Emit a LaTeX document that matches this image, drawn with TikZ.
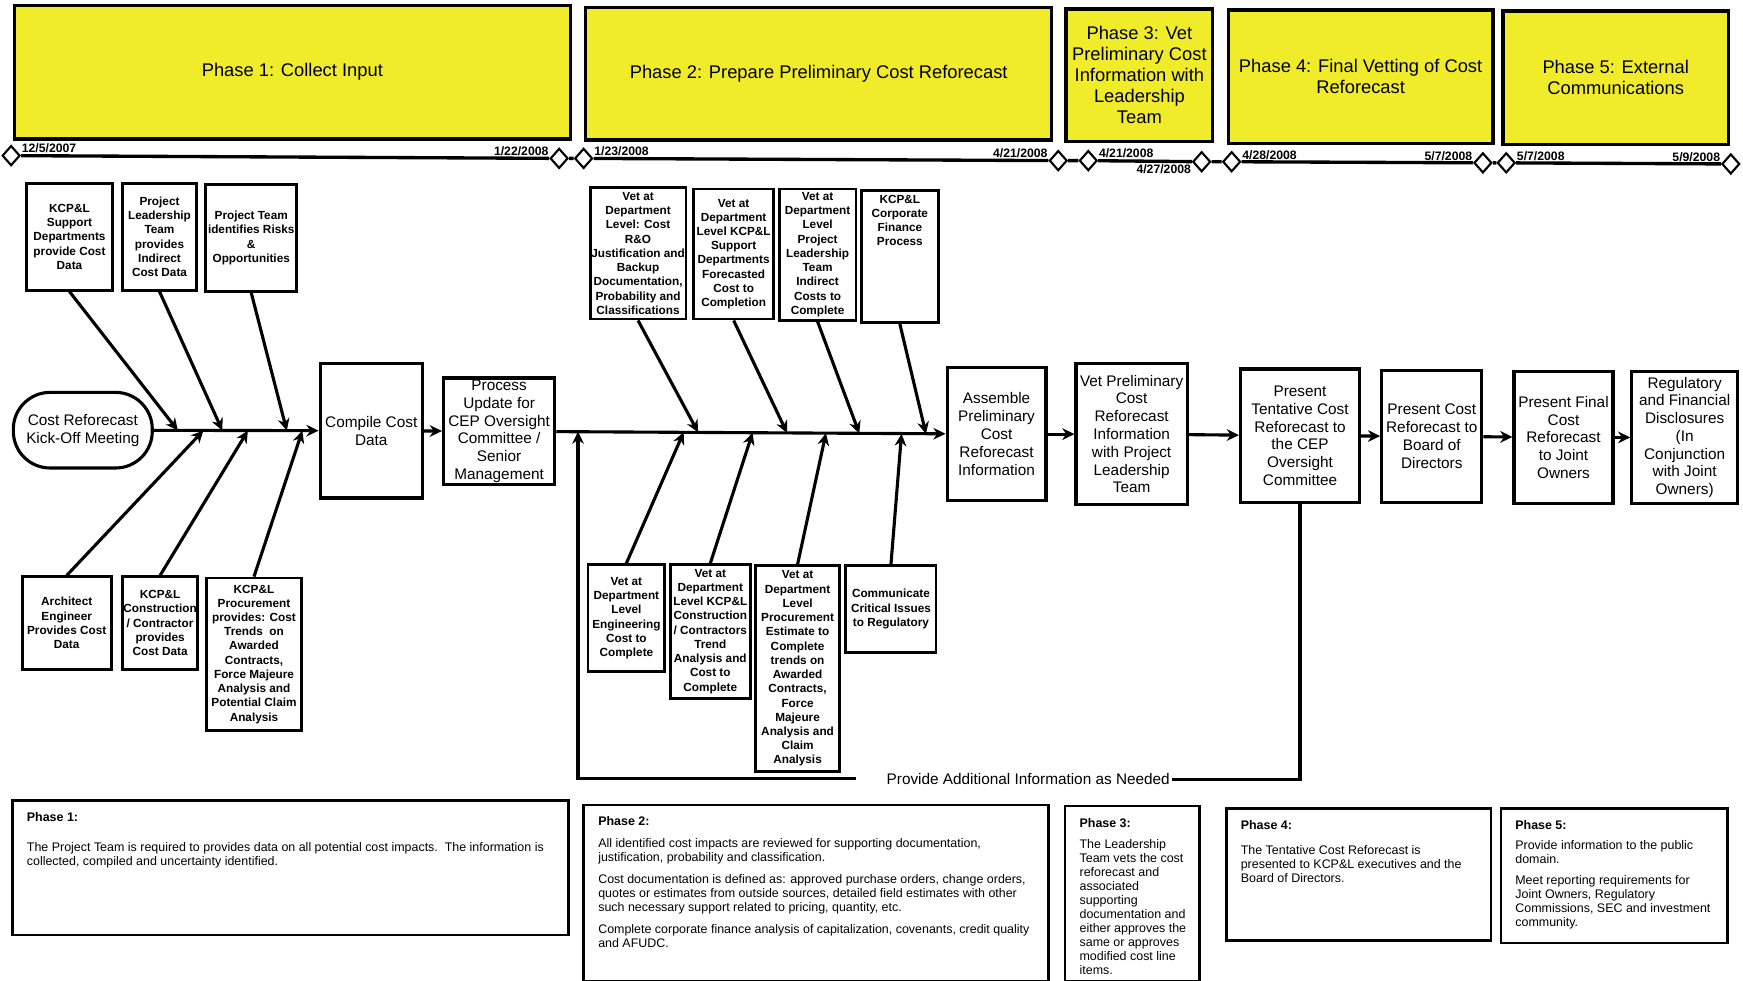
\documentclass[tikz,border=0pt]{standalone}
\usepackage{fontspec}
\setmainfont{Liberation Sans}
\usepackage{tikz}
\usetikzlibrary{arrows.meta, positioning, shapes.geometric}
\usepackage[usenames,dvipsnames]{xcolor}
\definecolor{phaseyellow}{HTML}{F1EC2A}
\tikzset{>={Stealth[length=11pt,width=10.5pt]}}
\tikzset{
	phasebox/.style={draw, fill=phaseyellow, line width=3pt, align=center, inner sep=2pt, font=\fontsize{16.5}{19}\selectfont},
	milestone/.style={draw, diamond, fill=white, line width=1.9pt, minimum width=16pt, minimum height=18pt, inner sep=0pt},
	datelbl/.style={inner sep=0.5pt, font=\bfseries\fontsize{11}{12}\selectfont},
	stepbox/.style={draw, line width=2.8pt, align=center, inner sep=1pt, font=\fontsize{13.8}{16}\selectfont},
	inputbox/.style={draw, line width=2.6pt, align=center, inner sep=1pt, font=\bfseries\fontsize{10.6}{12.8}\selectfont},
	notebox/.style={draw, line width=2.4pt, anchor=north west, inner xsep=13pt, inner ysep=10pt, font=\fontsize{11.2}{12.6}\selectfont},
	flow/.style={line width=2.8pt, ->},
	spine/.style={line width=2.8pt}
}
\newcommand{\notebody}[3]{\parbox[t][#2][t]{#1}{\begin{tabular}[t]{@{}l@{}}#3\end{tabular}}}

\begin{document}
\begin{tikzpicture}[x=1pt, y=-1pt]
	\useasboundingbox (0,0) rectangle (1568,882);
	\node[phasebox, minimum width=500pt, minimum height=120pt] (ph1) at (263,65) {Phase 1: Collect Input};
	\node[phasebox, minimum width=419pt, minimum height=119pt] (ph2) at (736.5,66.5) {Phase 2: Prepare Preliminary Cost Reforecast};
	\node[phasebox, minimum width=132pt, minimum height=119pt] (ph3) at (1025,67.5) {Phase 3: Vet\\Preliminary Cost\\Information with\\Leadership\\Team};
	\node[phasebox, minimum width=238pt, minimum height=120pt] (ph4) at (1224,69) {Phase 4: Final Vetting of Cost\\Reforecast};
	\node[phasebox, minimum width=203pt, minimum height=120pt] (ph5) at (1453.5,70) {Phase 5: External\\Communications};

	\node[milestone] (m1) at (10,140) {};
	\node[milestone] (m2) at (503,142.5) {};
	\node[milestone] (m3) at (525,142.5) {};
	\node[milestone] (m4) at (952,144.5) {};
	\node[milestone] (m5) at (979,144.5) {};
	\node[milestone] (m6) at (1081,145.5) {};
	\node[milestone] (m7) at (1108,145.5) {};
	\node[milestone] (m8) at (1334,146.5) {};
	\node[milestone] (m9) at (1355,146.5) {};
	\node[milestone] (m10) at (1557,147.5) {};
	\draw[line width=3pt] (m1) -- (m2) -- (m3) -- (m4) -- (m5) -- (m6) -- (m7) -- (m8) -- (m9) -- (m10);
	\node[datelbl, above right=1.5pt and 0pt of m1.east] (dt1) {12/5/2007};
	\node[datelbl, above left=1.5pt and 0pt of m2.west] (dt2) {1/22/2008};
	\node[datelbl, above right=1.5pt and 0pt of m3.east] (dt3) {1/23/2008};
	\node[datelbl, above left=1.5pt and 0pt of m4.west] (dt4) {4/21/2008};
	\node[datelbl, above right=1.5pt and 0pt of m5.east] (dt5) {4/21/2008};
	\node[datelbl, below left=1.5pt and 0pt of m6.west] (dt6) {4/27/2008};
	\node[datelbl, above right=1.5pt and 0pt of m7.east] (dt7) {4/28/2008};
	\node[datelbl, above left=1.5pt and 0pt of m8.west] (dt8) {5/7/2008};
	\node[datelbl, above right=1.5pt and 0pt of m9.east] (dt9) {5/7/2008};
	\node[datelbl, above left=1.5pt and 0pt of m10.west] (dt10) {5/9/2008};

	\node[stepbox, rounded corners=33pt, minimum width=125pt, minimum height=68pt] (kick) at (74.5,387) {Cost Reforecast\\Kick-Off Meeting};
	\node[stepbox, minimum width=92pt, minimum height=121pt] (cmp) at (334,387.5) {Compile Cost\\Data};
	\node[stepbox, minimum width=100pt, minimum height=96pt] (prc) at (449,388) {Process\\Update for\\CEP Oversight\\Committee /\\Senior\\Management};
	\node[stepbox, minimum width=89pt, minimum height=119pt] (asm) at (896.5,390.5) {Assemble\\Preliminary\\Cost\\Reforecast\\Information};
	\node[stepbox, minimum width=100pt, minimum height=127pt] (vet) at (1018,390.5) {Vet Preliminary\\Cost\\Reforecast\\Information\\with Project\\Leadership\\Team};
	\node[stepbox, minimum width=107pt, minimum height=120pt] (tnt) at (1169.5,392) {Present\\Tentative Cost\\Reforecast to\\the CEP\\Oversight\\Committee};
	\node[stepbox, minimum width=90pt, minimum height=119pt] (brd) at (1288,392.5) {Present Cost\\Reforecast to\\Board of\\Directors};
	\node[stepbox, minimum width=89pt, minimum height=119pt] (fin) at (1406.5,393.5) {Present Final\\Cost\\Reforecast\\to Joint\\Owners};
	\node[stepbox, minimum width=95pt, minimum height=119pt] (reg) at (1515.5,393.5) {Regulatory\\and Financial\\Disclosures\\(In\\Conjunction\\with Joint\\Owners)};

	\node[inputbox, minimum width=77pt, minimum height=96pt] (in1) at (62.5,213) {KCP\&L\\Support\\Departments\\provide Cost\\Data};
	\node[inputbox, minimum width=67pt, minimum height=96pt] (in2) at (143.5,213) {Project\\Leadership\\Team\\provides\\Indirect\\Cost Data};
	\node[inputbox, minimum width=82pt, minimum height=96pt] (in3) at (226,214) {Project Team\\identifies Risks\\\&\\Opportunities};
	\node[inputbox, minimum width=80pt, minimum height=83pt] (in4) at (60,560.5) {Architect\\Engineer\\Provides Cost\\Data};
	\node[inputbox, minimum width=68pt, minimum height=83pt] (in5) at (144,560.5) {KCP\&L\\Construction\\/ Contractor\\provides\\Cost Data};
	\node[inputbox, minimum width=85pt, minimum height=137pt] (in6) at (228.5,588.5) {KCP\&L\\Procurement\\provides: Cost\\Trends~ on\\Awarded\\Contracts,\\Force Majeure\\Analysis and\\Potential Claim\\Analysis};

	\node[inputbox, minimum width=86pt, minimum height=118pt] (vt1) at (574,228) {Vet at\\Department\\Level: Cost\\R\&O\\Justification and\\Backup\\Documentation,\\Probability and\\Classifications};
	\node[inputbox, minimum width=72pt, minimum height=117pt] (vt2) at (660,228.5) {Vet at\\Department\\Level KCP\&L\\Support\\Departments\\Forecasted\\Cost to\\Completion};
	\node[inputbox, minimum width=69pt, minimum height=118pt] (vt3) at (735.5,229) {Vet at\\Department\\Level\\Project\\Leadership\\Team\\Indirect\\Costs to\\Complete};
	\node[inputbox, minimum width=69pt, anchor=north, inner ysep=4pt, text depth=65pt] (vt4) at (809.5,170) {KCP\&L\\Corporate\\Finance\\Process};
	\node[inputbox, minimum width=69pt, minimum height=96pt] (vt5) at (563.5,556) {Vet at\\Department\\Level\\Engineering\\Cost to\\Complete};
	\node[inputbox, minimum width=72pt, minimum height=120pt] (vt6) at (639,568) {Vet at\\Department\\Level KCP\&L\\Construction\\/ Contractors\\Trend\\Analysis and\\Cost to\\Complete};
	\node[inputbox, minimum width=75pt, minimum height=185pt] (vt7) at (717.5,601.5) {Vet at\\Department\\Level\\Procurement\\Estimate to\\Complete\\trends on\\Awarded\\Contracts,\\Force\\Majeure\\Analysis and\\Claim\\Analysis};
	\node[inputbox, minimum width=81pt, minimum height=78pt] (vt8) at (801.5,548) {Communicate\\Critical Issues\\to Regulatory};

	\coordinate (s1a) at (160,387.3);
	\coordinate (s1b) at (200,387.3);
	\coordinate (s1c) at (258,387.5);
	\coordinate (s1d) at (183,387.3);
	\coordinate (s1e) at (223,387.4);
	\coordinate (s1f) at (272,387.5);
	\coordinate (s2a) at (628,388.9);
	\coordinate (s2b) at (708,389.5);
	\coordinate (s2c) at (773,389.9);
	\coordinate (s2d) at (833,390.4);
	\coordinate (s2e) at (615,388.8);
	\coordinate (s2f) at (677,389.3);
	\coordinate (s2g) at (743,389.7);
	\coordinate (s2h) at (811,390.2);

	\draw[flow] (kick) -- (cmp);
	\draw[flow] (cmp) -- (prc);
	\draw[flow] (prc) -- (asm);
	\draw[flow] (asm) -- (vet);
	\draw[flow] (vet) -- (tnt);
	\draw[flow] (tnt) -- (brd);
	\draw[flow] (brd) -- (fin);
	\draw[flow] (fin) -- (reg);

	\draw[flow] (in1.south) -- (s1a);
	\draw[flow] (in2.south) -- (s1b);
	\draw[flow] (in3.south) -- (s1c);
	\draw[flow] (in4.north) -- (s1d);
	\draw[flow] (in5.north) -- (s1e);
	\draw[flow] (in6.north) -- (s1f);
	\draw[flow] (vt1.south) -- (s2a);
	\draw[flow] (vt2.south) -- (s2b);
	\draw[flow] (vt3.south) -- (s2c);
	\draw[flow] (vt4.south) -- (s2d);
	\draw[flow] (vt5.north) -- (s2e);
	\draw[flow] (vt6.north) -- (s2f);
	\draw[flow] (vt7.north) -- (s2g);
	\draw[flow] (vt8.north) -- (s2h);

	\node[font=\fontsize{13.8}{16}\selectfont, inner sep=2pt] (fbl) at (925,701) {Provide Additional Information as Needed};
	\coordinate (fbk) at (770,700);
	\coordinate (fbt) at (520,388.2);
	\draw[spine] (tnt.south) |- (fbl.east);
	\draw[flow] (fbk) -| (fbt);

	\node[notebox] (nt1) at (10,719) {\notebody{474pt}{101pt}{\textbf{Phase 1:}\\[14pt]
		The Project Team is required to provides data on all potential cost impacts.\ \ The information is\\
		collected, compiled and uncertainty identified.}};
	\node[notebox] (nt2) at (524,723) {\notebody{392pt}{139pt}{\textbf{Phase 2:}\\[7pt]
		All identified cost impacts are reviewed for supporting documentation,\\
		justification, probability and classification.\\[7pt]
		Cost documentation is defined as: approved purchase orders, change orders,\\
		quotes or estimates from outside sources, detailed field estimates with other\\
		such necessary support related to pricing, quantity, etc.\\[7pt]
		Complete corporate finance analysis of capitalization, covenants, credit quality\\
		and AFUDC.}};
	\node[notebox] (nt3) at (957,724) {\notebody{95pt}{138pt}{\textbf{Phase 3:}\\[7pt]
		The Leadership\\Team vets the cost\\reforecast and\\associated\\supporting\\documentation and\\either approves the\\same or approves\\modified cost line\\items.}};
	\node[notebox] (nt4) at (1102,726) {\notebody{212pt}{99pt}{\textbf{Phase 4:}\\[10.5pt]
		The Tentative Cost Reforecast is\\presented to KCP\&L executives and the\\Board of Directors.}};
	\node[notebox] (nt5) at (1349,726) {\notebody{178pt}{101pt}{\textbf{Phase 5:}\\[6pt]
		Provide information to the public\\domain.\\[6pt]
		Meet reporting requirements for\\Joint Owners, Regulatory\\Commissions, SEC and investment\\community.}};
\end{tikzpicture}
\end{document}
